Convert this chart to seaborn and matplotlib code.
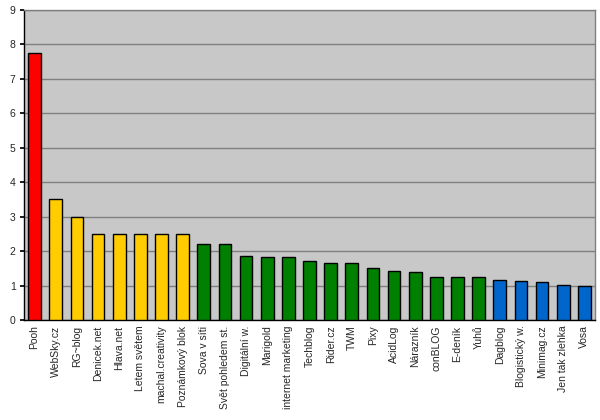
import matplotlib
matplotlib.use("Agg")
import matplotlib.pyplot as plt
import seaborn as sns
import pandas as pd

names = ["Pooh", "WebSky.cz", "RG~blog", "Denicek.net", "Hlava.net", "Letem světem",
         "machal.creativity", "Poznámkový blok", "Sova v síti", "Svět pohledem st.",
         "Digitální w.", "Marigold", "internet marketing", "Techblog", "Rider.cz", "TWM",
         "Pixy", "AcidLog", "Nárazník", "conBLOG", "E-deník", "Yuhů", "Dagblog",
         "Blogistický w.", "Minimag.cz", "Jen tak zlehka", "Vosa"]
values = [7.75, 3.5, 3.0, 2.5, 2.5, 2.5, 2.5, 2.5, 2.21, 2.21, 1.85, 1.82, 1.82,
          1.71, 1.65, 1.65, 1.5, 1.42, 1.39, 1.24, 1.24, 1.24, 1.16, 1.13, 1.10, 1.02, 0.98]
groups = ["a"] + ["b"] * 7 + ["c"] * 14 + ["d"] * 5
palette = {"a": "#FF0000", "b": "#FFCC00", "c": "#008000", "d": "#0066CC"}
yticks = [0, 1, 2, 3, 4, 5, 6, 7, 8, 9]

df = pd.DataFrame({"name": names, "value": values, "group": groups})

sns.set_theme(style="white")
plt.rcParams["font.family"] = ["Liberation Sans", "DejaVu Sans"]

fig = plt.figure(figsize=(6, 4.2), dpi=100)
ax = fig.add_axes([24 / 600, 1 - 320 / 420, (595 - 24) / 600, (320 - 10) / 420])
ax.set_facecolor("#C8C8C8")

sns.barplot(data=df, x="name", y="value", hue="group", palette=palette, dodge=False,
            saturation=1, width=0.6, edgecolor="black", linewidth=1, legend=False,
            ax=ax, zorder=3)

ax.set_ylim(0, 9)
ax.set_yticks(yticks)
ax.set_xlim(-0.5, len(names) - 0.5)
ax.yaxis.grid(True, color="#808080", linewidth=1, zorder=0)
ax.set_axisbelow(True)
ax.set_xlabel("")
ax.set_ylabel("")
ax.tick_params(axis="x", labelrotation=90, labelsize=7.5, length=0, pad=4)
ax.tick_params(axis="y", labelsize=7.5, length=3, pad=3, left=True, color="black")
for s in ["left", "bottom"]:
    ax.spines[s].set_color("black")
    ax.spines[s].set_linewidth(1)
for s in ["top", "right"]:
    ax.spines[s].set_color("#808080")
    ax.spines[s].set_linewidth(1)

fig.savefig("out.png", dpi=100, facecolor="white")
